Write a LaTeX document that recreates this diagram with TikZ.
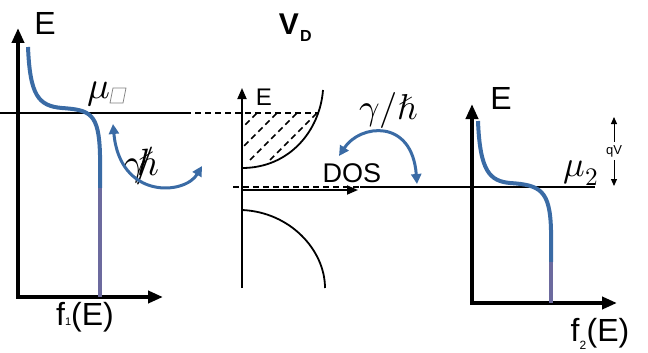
\documentclass[tikz,border=0pt]{standalone}
\usepackage{fontspec}
\usepackage{unicode-math}
\setmainfont{Liberation Sans}
\setmathfont{Latin Modern Math}
\usetikzlibrary{arrows.meta}
\definecolor{fblue}{RGB}{58,107,165}
\definecolor{fpurple}{RGB}{108,106,158}
\begin{document}
\begin{tikzpicture}[x=1pt,y=-1pt,
  bigaxis/.style={line width=4.5pt,line join=miter,{Triangle[length=15pt,width=12pt]}-{Triangle[length=15pt,width=12pt]}},
  smallaxis/.style={line width=1.8pt,-{Triangle[length=11pt,width=9pt]}},
  fermi/.style={line width=4pt,fblue},
  occ/.style={line width=4pt,fpurple},
  level/.style={line width=2pt},
  dashlevel/.style={line width=2pt,dash pattern=on 6pt off 4pt},
  band/.style={line width=1.8pt},
  hatch/.style={line width=1.6pt,dash pattern=on 6pt off 4pt},
  rate/.style={line width=3pt,fblue,{Triangle[length=10pt,width=10pt]}-{Triangle[length=10pt,width=10pt]}},
  lbl/.style={inner sep=0pt,font=\fontsize{32}{38}\selectfont},
  mlbl/.style={inner sep=0pt,font=\fontsize{24}{28}\selectfont},
  qlbl/.style={inner sep=0pt,font=\fontsize{13}{15}\selectfont},
  glbl/.style={inner sep=0pt,font=\fontsize{38}{42}\selectfont},
  qarrow/.style={line width=1pt,-{Triangle[length=7pt,width=6pt]}}]
\useasboundingbox (0,0) rectangle (648,353);

% ---------- left panel ----------
\coordinate (y1) at (18,28);
\coordinate (o1) at (18,297);
\coordinate (x1) at (163,297);
\draw[bigaxis] (y1) -- (o1) -- (x1);
\node[lbl] (E1) at (45,23) {E};
\node[lbl,anchor=center] (f1) at (85,317) {f{\fontsize{11}{12}\selectfont 1}(E)};

\coordinate (l1a) at (0,113);
\coordinate (l1b) at (185,113);
\coordinate (l1c) at (318,113);
\draw[level] (l1a) -- (l1b);
\draw[dashlevel] (l1b) -- (l1c);

\draw[fermi] (28,47) .. controls (30,95) and (38,106) .. (62,108)
  .. controls (90,110) and (99,113) .. (100,155) -- (100,188);
\draw[occ] (100,188) -- (100,297);

\node[glbl] (mu1) at (99,94) {$\mu$};
\draw[gray,line width=0.7pt] (113,88) -- (126,88) -- (123,103) -- (110,103) -- cycle;

\node[glbl] (g1) at (142,166) {$\gamma\mkern-5mu/\mkern-8mu\hbar$};
\coordinate (r1a) at (113,124);
\coordinate (r1b) at (202,166);
\draw[rate] (r1a) .. controls (120,200) and (185,195) .. (r1b);

% ---------- middle panel ----------
\node[inner sep=0pt,font=\fontsize{30}{34}\selectfont\bfseries] (V) at (289,24) {V};
\node[inner sep=0pt,font=\fontsize{16}{18}\selectfont\bfseries] (D) at (306,36) {D};

\coordinate (m0) at (242,288);
\coordinate (mtop) at (242,88);
\coordinate (mx0) at (242,190);
\coordinate (mx1) at (358,190);
\draw[smallaxis] (m0) -- (mtop);
\draw[smallaxis] (mx0) -- (mx1);
\node[mlbl] (E2) at (264,97) {E};

\begin{scope}
  \clip (242,113) rectangle (330,170);
  \clip (242,168) .. controls (290,168) and (320,130) .. (323,90) -- (242,90) -- cycle;
  \foreach \s in {370,390,410,430}
    \draw[hatch] (\s-160,160) -- (\s-50,50);
\end{scope}
\draw[band] (242,168) .. controls (290,168) and (320,130) .. (323,90);
\draw[band] (242,210) .. controls (290,212) and (325,250) .. (325,288);

\coordinate (l2a) at (233,187);
\coordinate (l2b) at (360,187);
\coordinate (l2c) at (595,187);
\draw[dashlevel] (l2a) -- (l2b);
\draw[level] (l2b) -- (l2c);

\node[inner sep=0pt,font=\fontsize{27}{30}\selectfont] (dos) at (352,173) {DOS};
\node[inner sep=0pt,font=\fontsize{36}{40}\selectfont] (g2) at (389,110) {$\gamma/\hbar$};
\coordinate (r2a) at (339,156);
\coordinate (r2b) at (417,184);
\draw[rate] (r2a) .. controls (360,124) and (412,118) .. (r2b);

% ---------- right panel ----------
\coordinate (y3) at (472,104);
\coordinate (o3) at (472,303);
\coordinate (x3) at (617,303);
\draw[bigaxis] (y3) -- (o3) -- (x3);
\node[lbl] (E3) at (501,98) {E};
\node[lbl] (f2) at (600,334) {f\textsubscript{\fontsize{12}{13}\selectfont 2}(E)};

\draw[fermi] (478,121) .. controls (480,172) and (490,181) .. (510,183)
  .. controls (540,185) and (550,190) .. (551,230) -- (551,262);
\draw[occ] (551,262) -- (551,303);

\node[inner sep=0pt,font=\fontsize{36}{40}\selectfont] (mu2) at (581,173) {$\mu_2$};

\node[qlbl] (qv) at (614,151) {qV};
\coordinate (qt) at (614,117);
\coordinate (qb) at (614,186);
\draw[qarrow] (qv.north) ++(0,-3) -- (qt);
\draw[qarrow] (qv.south) ++(0,3) -- (qb);
\end{tikzpicture}
\end{document}
